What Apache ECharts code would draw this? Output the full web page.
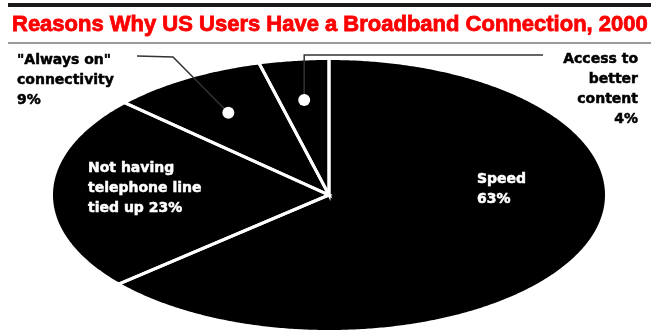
<!DOCTYPE html>
<html>
<head>
<meta charset="utf-8">
<script src="https://cdn.jsdelivr.net/npm/echarts@6/dist/echarts.min.js"></script>
<style>
  html, body { margin: 0; padding: 0; background: #fff; }
  #chart { width: 656px; height: 331px; }
</style>
</head>
<body>
<div id="chart"></div>
<script>
// Reasons for having broadband, share of US users (2000), clockwise from 12 o'clock
const categories = ['Speed', 'Not having\ntelephone line\ntied up', '"Always on"\nconnectivity', 'Access to\nbetter\ncontent'];
const shares = [63, 23, 9, 4];
const titleText = 'Reasons Why US Users Have a Broadband Connection, 2000';

// Label placement (pixels) for each category, plus the callout for the thin slices
const labelLayout = [
  { x: 477, y: 169, align: 'left', color: '#fff', sep: '\n' },
  { x: 88, y: 158, align: 'left', color: '#fff', sep: ' ' },
  { x: 17, y: 50, align: 'left', color: '#000', sep: '\n', leader: [[173, 57], [137, 56]] },
  { x: 638, y: 49, align: 'right', color: '#000', sep: '\n', leader: 'up', leaderY: 55, leaderEndX: 543 }
];

const total = shares.reduce((a, b) => a + b, 0);
const starts = [];
let acc = 0;
shares.forEach(v => { starts.push(acc / total * Math.PI * 2); acc += v; });
const sweeps = shares.map(v => v / total * Math.PI * 2);

// unit-circle point at angle t (radians, clockwise from top)
const onCircle = (t, r) => [r * Math.sin(t), r * Math.cos(t)];

const LABEL_FONT = 'bold 14px "DejaVu Sans"';

function renderSlice(params, api) {
  const i = params.dataIndex;
  const a0 = starts[i], a1 = a0 + sweeps[i];
  const center = api.coord([0, 0]);
  const steps = Math.max(4, Math.ceil((a1 - a0) / (Math.PI / 360)));
  const pts = [center];
  for (let k = 0; k <= steps; k++) {
    pts.push(api.coord(onCircle(a0 + (a1 - a0) * k / steps, 1)));
  }
  const children = [
    { type: 'polygon', shape: { points: pts }, style: { fill: '#000' }, z2: 1 },
    {
      type: 'polyline',
      shape: { points: [api.coord(onCircle(a0, 1.02)), center, api.coord(onCircle(a1, 1.02))] },
      style: { stroke: '#fff', lineWidth: 3, fill: null, lineJoin: 'miter' },
      z2: 10
    }
  ];
  const lay = labelLayout[i];
  const text = categories[i] + lay.sep + shares[i] + '%';
  children.push({
    type: 'text',
    x: lay.x, y: lay.y,
    style: {
      text: text, font: LABEL_FONT, fill: lay.color,
      stroke: lay.color, lineWidth: 0.5,
      align: lay.align, verticalAlign: 'top', lineHeight: 20
    },
    z2: 30
  });
  if (lay.leader) {
    const dot = api.coord(onCircle((a0 + a1) / 2, 0.71));
    let linePts;
    if (lay.leader === 'up') {
      linePts = [dot, [dot[0], lay.leaderY], [lay.leaderEndX, lay.leaderY]];
    } else {
      linePts = [dot].concat(lay.leader);
    }
    children.push({
      type: 'polyline', shape: { points: linePts },
      style: { stroke: '#333', lineWidth: 1.5, fill: null }, z2: 20
    });
    children.push({
      type: 'circle', shape: { cx: dot[0], cy: dot[1], r: 6 },
      style: { fill: '#fff' }, z2: 25
    });
  }
  return { type: 'group', children: children };
}

const chart = echarts.init(document.getElementById('chart'), null, { renderer: 'canvas' });
chart.setOption({
  animation: false,
  backgroundColor: '#fff',
  grid: { left: 53, top: 60, width: 552, height: 270 },
  xAxis: { type: 'value', min: -1, max: 1, show: false },
  yAxis: { type: 'value', min: -1, max: 1, show: false },
  graphic: [
    { type: 'rect', shape: { x: 8, y: 3, width: 643, height: 4 }, style: { fill: '#1a1a1a' } },
    { type: 'rect', shape: { x: 8, y: 42, width: 643, height: 2 }, style: { fill: '#9a9a9a' } },
    {
      type: 'text', x: 12, y: 25,
      style: {
        text: titleText, font: 'bold 22px "Liberation Sans"', fill: '#ff0000',
        verticalAlign: 'middle', stroke: '#ff0000', lineWidth: 0.8
      }
    }
  ],
  series: [{
    type: 'custom',
    coordinateSystem: 'cartesian2d',
    data: shares.map((v, i) => [i, v]),
    renderItem: renderSlice,
    silent: true
  }]
});
</script>
</body>
</html>
